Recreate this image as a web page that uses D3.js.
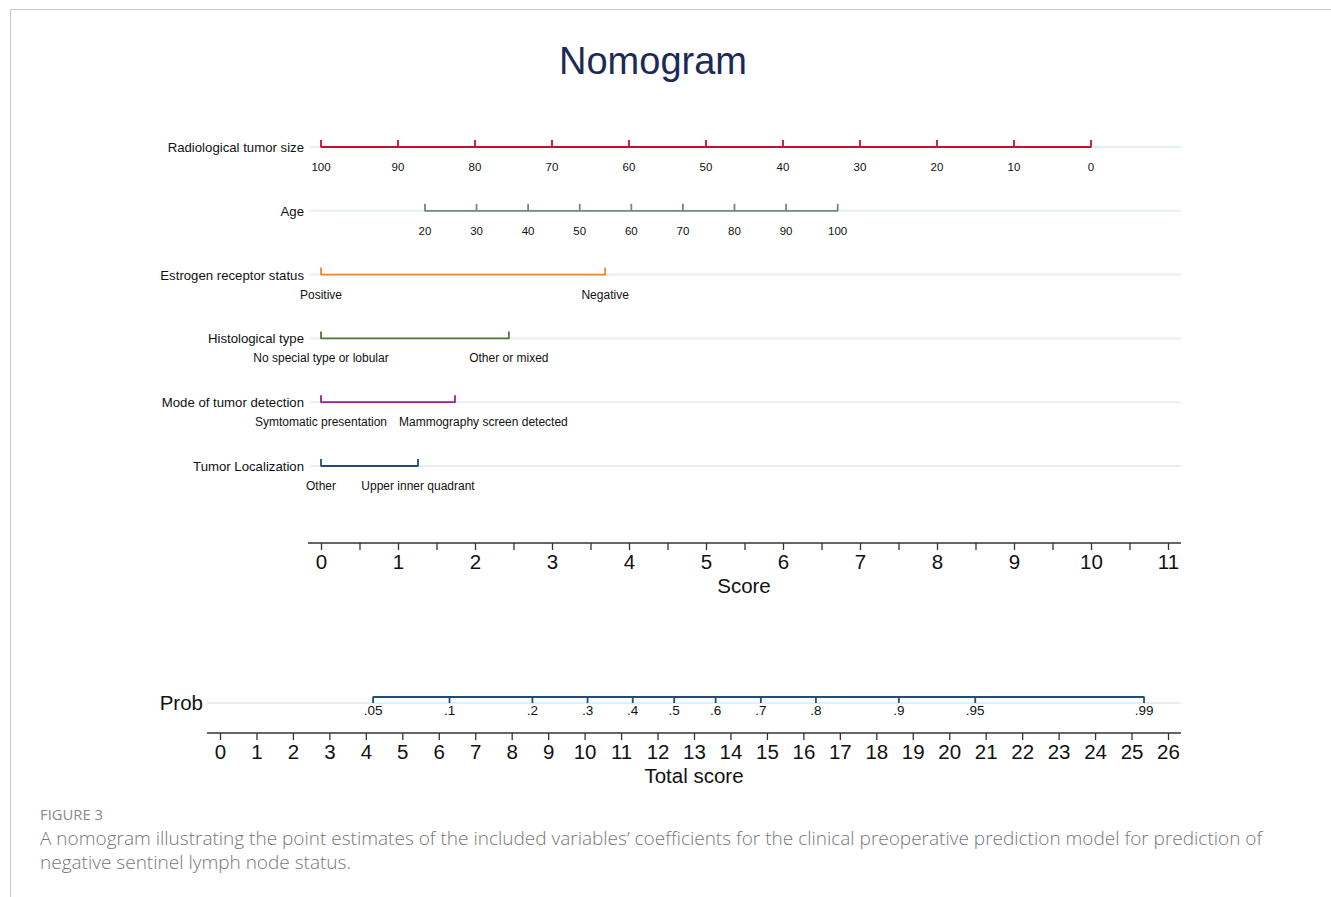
<!DOCTYPE html>
<html>
<head>
<meta charset="utf-8">
<script src="https://cdn.jsdelivr.net/npm/d3@7"></script>
<style>
  html, body { margin: 0; padding: 0; background: #fff; }
  svg { display: block; }
</style>
</head>
<body>
<svg id="chart" width="1331" height="897"></svg>
<script>
// Nomogram rows: label, colour, tick values and their points on the 0–11 score scale
const variableNames = ["Radiological tumor size", "Age", "Estrogen receptor status",
  "Histological type", "Mode of tumor detection", "Tumor Localization"];
const variableColors = ["#c8102e", "#6f8c80", "#ea8a2e", "#55792e", "#9b1f93", "#1f4e7a"];

const tumorSizeTicks = [100, 90, 80, 70, 60, 50, 40, 30, 20, 10, 0];
const tumorSizePoints = [0, 1, 2, 3, 4, 5, 6, 7, 8, 9, 10];
const ageTicks = [20, 30, 40, 50, 60, 70, 80, 90, 100];
const agePoints = [1.35, 2.02, 2.69, 3.36, 4.03, 4.70, 5.37, 6.04, 6.71];
const erTicks = ["Positive", "Negative"];
const erPoints = [0, 3.69];
const histTicks = ["No special type or lobular", "Other or mixed"];
const histPoints = [0, 2.44];
const modeTicks = ["Symtomatic presentation", "Mammography screen detected"];
const modePoints = [0, 1.74];
const locTicks = ["Other", "Upper inner quadrant"];
const locPoints = [0, 1.26];

const scoreTicks = d3.range(0, 11.01, 0.5);
const scoreLabels = [0, 1, 2, 3, 4, 5, 6, 7, 8, 9, 10, 11];
const totalTicks = d3.range(0, 27);

// Probability scale: logistic model on the total score
const probTicks = [0.05, 0.1, 0.2, 0.3, 0.4, 0.5, 0.6, 0.7, 0.8, 0.9, 0.95, 0.99];
const probTickLabels = [".05", ".1", ".2", ".3", ".4", ".5", ".6", ".7", ".8", ".9", ".95", ".99"];
const modelIntercept = -4.442;
const modelSlope = 0.3566;

const rows = [
  { ticks: tumorSizeTicks, points: tumorSizePoints, small: true },
  { ticks: ageTicks, points: agePoints, small: true },
  { ticks: erTicks, points: erPoints },
  { ticks: histTicks, points: histPoints },
  { ticks: modeTicks, points: modePoints },
  { ticks: locTicks, points: locPoints }
];

const svg = d3.select("#chart");
const font = "'Liberation Sans', Arial, sans-serif";

// Page frame
svg.append("path")
  .attr("d", "M10.5,897 V9.5 H1331")
  .attr("fill", "none").attr("stroke", "#c8c8c8").attr("stroke-width", 1);

// Title
svg.append("text")
  .attr("x", 653).attr("y", 74)
  .attr("text-anchor", "middle")
  .attr("font-family", font).attr("font-size", 38)
  .attr("fill", "#1b2a58")
  .text("Nomogram");

const x = d3.scaleLinear().domain([0, 11]).range([321, 1168]);
const rowY = d3.scalePoint().domain(d3.range(rows.length)).range([147, 466]);
const bgLeft = 310, bgRight = 1181;
const labelGap = 12;

rows.forEach((row, i) => {
  const y = rowY(i);
  const g = svg.append("g");
  g.append("line")
    .attr("x1", bgLeft).attr("x2", bgRight).attr("y1", y).attr("y2", y)
    .attr("stroke", "#e6f0f3").attr("stroke-width", 2);
  g.append("text")
    .attr("x", 304).attr("y", y + 5)
    .attr("text-anchor", "end")
    .attr("font-family", font).attr("font-size", 13.2).attr("fill", "#111")
    .text(variableNames[i]);
  const ext = d3.extent(row.points);
  g.append("line")
    .attr("x1", x(ext[0])).attr("x2", x(ext[1])).attr("y1", y).attr("y2", y)
    .attr("stroke", variableColors[i]).attr("stroke-width", 1.8);
  let prevRight = -Infinity;
  row.points.forEach((p, k) => {
    g.append("line")
      .attr("x1", x(p)).attr("x2", x(p)).attr("y1", y - 7).attr("y2", y + 0.5)
      .attr("stroke", variableColors[i]).attr("stroke-width", 1.8);
    const t = g.append("text")
      .attr("x", x(p)).attr("y", y + 24)
      .attr("text-anchor", "middle")
      .attr("font-family", font).attr("font-size", row.small ? 11.5 : 12).attr("fill", "#111")
      .text(row.ticks[k]);
    // push a label right when it would collide with the one before it
    const w = t.node().getComputedTextLength();
    let left = x(p) - w / 2;
    if (left < prevRight + labelGap) {
      left = prevRight + labelGap;
      t.attr("x", left + w / 2);
    }
    prevRight = left + w;
  });
});

// Score axis
const scoreY = 543;
const scoreAxis = d3.axisBottom(x)
  .tickValues(scoreTicks)
  .tickSize(7)
  .tickSizeOuter(0)
  .tickFormat(d => scoreLabels.includes(d) ? d : "");
const sg = svg.append("g").attr("transform", `translate(0,${scoreY})`).call(scoreAxis);
sg.select(".domain").remove();
sg.append("line").attr("x1", 308).attr("x2", 1181).attr("stroke", "#333").attr("stroke-width", 1.3);
sg.selectAll(".tick line").attr("stroke", "#333").attr("stroke-width", 1.3);
sg.selectAll(".tick text").attr("font-family", font).attr("font-size", 20.5).attr("fill", "#111").attr("dy", "0.95em").attr("y", 7);
svg.append("text")
  .attr("x", 744).attr("y", 593)
  .attr("text-anchor", "middle")
  .attr("font-family", font).attr("font-size", 20.5).attr("fill", "#111")
  .text("Score");

// Total score axis
const xt = d3.scaleLinear().domain([0, 26]).range([220, 1168]);
const totalY = 733;
const totalAxis = d3.axisBottom(xt).tickValues(totalTicks).tickSize(7).tickSizeOuter(0).tickFormat(d3.format("d"));
const tg = svg.append("g").attr("transform", `translate(0,${totalY})`).call(totalAxis);
tg.select(".domain").remove();
tg.append("line").attr("x1", 207).attr("x2", 1181).attr("stroke", "#333").attr("stroke-width", 1.3);
tg.selectAll(".tick line").attr("stroke", "#333").attr("stroke-width", 1.3);
tg.selectAll(".tick text").attr("font-family", font).attr("font-size", 20.5).attr("fill", "#111").attr("dy", "0.95em").attr("y", 7);
svg.append("text")
  .attr("x", 694).attr("y", 783)
  .attr("text-anchor", "middle")
  .attr("font-family", font).attr("font-size", 20.5).attr("fill", "#111")
  .text("Total score");

// Probability row
const probToTotal = p => (Math.log(p / (1 - p)) - modelIntercept) / modelSlope;
const probY = 697;
const pg = svg.append("g");
pg.append("line")
  .attr("x1", 207).attr("x2", bgRight).attr("y1", probY + 6).attr("y2", probY + 6)
  .attr("stroke", "#e6f0f3").attr("stroke-width", 2);
pg.append("text")
  .attr("x", 203).attr("y", probY + 13)
  .attr("text-anchor", "end")
  .attr("font-family", font).attr("font-size", 20.5).attr("fill", "#111")
  .text("Prob");
const pExt = d3.extent(probTicks).map(p => xt(probToTotal(p)));
pg.append("line")
  .attr("x1", pExt[0]).attr("x2", pExt[1]).attr("y1", probY).attr("y2", probY)
  .attr("stroke", "#1f4e7a").attr("stroke-width", 1.8);
probTicks.forEach((p, k) => {
  const px = xt(probToTotal(p));
  pg.append("line")
    .attr("x1", px).attr("x2", px).attr("y1", probY - 0.5).attr("y2", probY + 6)
    .attr("stroke", "#1f4e7a").attr("stroke-width", 1.8);
  pg.append("text")
    .attr("x", px).attr("y", probY + 18)
    .attr("text-anchor", "middle")
    .attr("font-family", font).attr("font-size", 13.5).attr("fill", "#111")
    .text(probTickLabels[k]);
});

// Figure caption
const capFont = "'Open Sans', Lato, sans-serif";
svg.append("text")
  .attr("x", 40).attr("y", 820)
  .attr("font-family", capFont).attr("font-size", 14.8).attr("fill", "#8a8a8a")
  .text("FIGURE 3");
svg.append("text")
  .attr("x", 40).attr("y", 845)
  .attr("font-family", capFont).attr("font-size", 19).attr("font-weight", 300).attr("fill", "#777")
  .text("A nomogram illustrating the point estimates of the included variables\u2019 coefficients for the clinical preoperative prediction model for prediction of");
svg.append("text")
  .attr("x", 40).attr("y", 869)
  .attr("font-family", capFont).attr("font-size", 19).attr("font-weight", 300).attr("fill", "#777")
  .text("negative sentinel lymph node status.");
</script>
</body>
</html>
